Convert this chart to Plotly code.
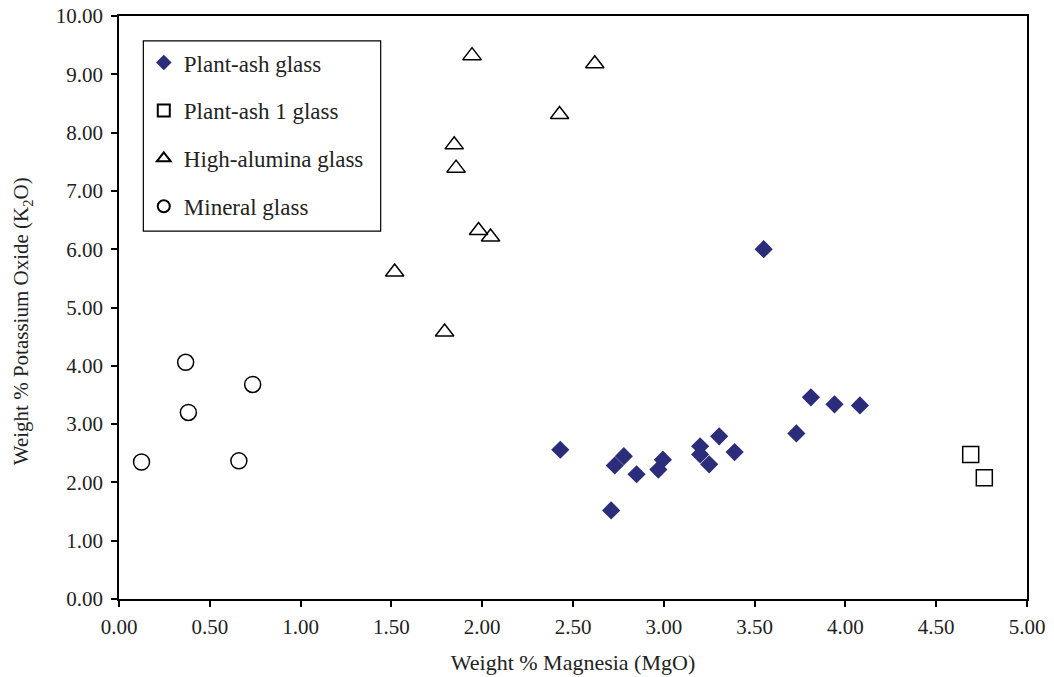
import plotly.graph_objects as go

# Plant-ash glass (filled diamonds)
plant_ash_mgo = [2.43, 2.78, 2.73, 2.85, 2.71, 2.995, 2.97, 3.20, 3.20, 3.25, 3.305, 3.39, 3.73, 3.81, 3.94, 4.08, 3.55]
plant_ash_k2o = [2.56, 2.45, 2.29, 2.14, 1.52, 2.39, 2.22, 2.62, 2.48, 2.31, 2.79, 2.52, 2.84, 3.46, 3.34, 3.32, 6.00]

# Plant-ash 1 glass (open squares)
plant_ash1_mgo = [4.69, 4.765]
plant_ash1_k2o = [2.48, 2.08]

# High-alumina glass (open triangles)
high_al_mgo = [1.944, 2.62, 2.426, 1.846, 1.856, 1.98, 2.046, 1.518, 1.793]
high_al_k2o = [9.32, 9.18, 8.31, 7.79, 7.39, 6.32, 6.21, 5.61, 4.58]

# Mineral glass (open circles)
mineral_mgo = [0.367, 0.736, 0.382, 0.124, 0.66]
mineral_k2o = [4.06, 3.68, 3.20, 2.35, 2.37]

x_title = "Weight % Magnesia (MgO)"
y_title = "Weight % Potassium Oxide (K<sub>2</sub>O)"

FONT = "Liberation Serif"
NAVY = "#2B2C7A"
TXT = "#222"

fig = go.Figure()
fig.add_trace(go.Scatter(x=plant_ash_mgo, y=plant_ash_k2o, mode="markers", name="Plant-ash glass",
                         legendgroup="a",
                         marker=dict(symbol="diamond", size=14, color=NAVY, line=dict(width=0))))
fig.add_trace(go.Scatter(x=plant_ash1_mgo, y=plant_ash1_k2o, mode="markers", name="Plant-ash 1 glass",
                         legendgroup="b",
                         marker=dict(symbol="square-open", size=16, color="black", line=dict(width=1.5))))
fig.add_trace(go.Scatter(x=high_al_mgo, y=high_al_k2o, mode="markers", name="High-alumina glass",
                         legendgroup="c",
                         marker=dict(symbol="triangle-up-open", size=16, color="black", line=dict(width=1.5))))
fig.add_trace(go.Scatter(x=mineral_mgo, y=mineral_k2o, mode="markers", name="Mineral glass",
                         legendgroup="d",
                         marker=dict(symbol="circle-open", size=16, color="black", line=dict(width=1.5))))

axis_common = dict(showline=True, linecolor="black", linewidth=1.5, mirror=True,
                   ticks="outside", ticklen=6, tickcolor="black", tickwidth=1.5,
                   showgrid=False, zeroline=False, tickformat=".2f", automargin=False,
                   tickfont=dict(family=FONT, size=21, color=TXT))

fig.update_layout(
    width=1054, height=677,
    margin=dict(l=119, r=27, t=16, b=78, autoexpand=False),
    paper_bgcolor="white", plot_bgcolor="white",
    font=dict(family=FONT, size=21, color=TXT),
    showlegend=True,
    legend=dict(x=0.0273, y=0.957, xanchor="left", yanchor="top",
                borderwidth=0, bgcolor="rgba(0,0,0,0)",
                font=dict(family=FONT, size=23, color=TXT),
                itemsizing="constant", tracegroupgap=15, traceorder="grouped"),
    xaxis=dict(range=[0, 5], dtick=0.5, tick0=0, ticklabelstandoff=2,
               title=dict(text=x_title, font=dict(family=FONT, size=22, color=TXT), standoff=17),
               **axis_common),
    yaxis=dict(range=[0, 10], dtick=1, tick0=0, ticklabelstandoff=4,
               **axis_common),
    annotations=[dict(text=y_title, xref="paper", yref="paper", x=-0.106, y=0.476,
                      xanchor="center", yanchor="middle", textangle=-90, showarrow=False,
                      font=dict(family=FONT, size=21, color=TXT))],
    shapes=[dict(type="rect", xref="paper", yref="paper",
                 x0=0.0268, x1=0.2882, y0=0.9573, y1=0.6311,
                 line=dict(color="black", width=1.2), layer="above")],
)

fig.write_html("out.html", config={"displayModeBar": False},
               post_script="document.body.style.margin='0';")
